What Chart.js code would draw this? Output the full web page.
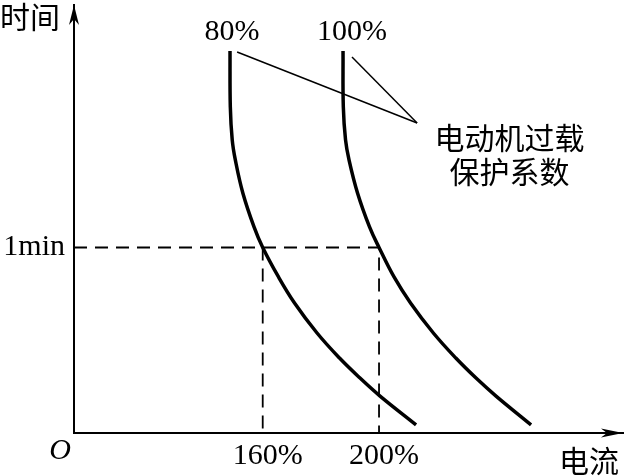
<!DOCTYPE html>
<html>
<head>
<meta charset="utf-8">
<script src="https://cdn.jsdelivr.net/npm/chart.js@4"></script>
<style>
  body { margin: 0; background: #fff; }
</style>
</head>
<body>
<canvas id="chart" width="625" height="476"></canvas>
<script>
// x = current (% of rated), y = trip time in minutes
const currentTicks = [160, 200];
const timeTicks = [1];
const xMin = 95.1, xMax = 283.9, yMax = 2.307;

const curveY = [2.059, 1.757, 1.58, 1.472, 1.294, 1.111, 1.0, 0.841, 0.701, 0.539, 0.404, 0.296, 0.199, 0.044];
const curve80X = [148.75, 148.86, 149.51, 150.58, 153.16, 157.01, 160, 165.43, 170.94, 178.68, 186.41, 193.47, 200.35, 212.73];
const curve100X = [187.62, 187.72, 188.48, 189.68, 192.6, 196.73, 200, 205.16, 210.83, 218.68, 226.41, 233.36, 240.24, 252.28];

const curveLabels = ['80%', '100%'];
const curveLabelX = [149.4, 190.7];
const curveLabelY = 2.119;

// leader lines from the curves to the note
const leaderStartX = [151.2, 190.7];
const leaderStartY = [2.054, 2.027];
const leaderEnd = {x: 213.1, y: 1.671};

const noteLines = ['电动机过载', '保护系数'];
const noteX = 244.9;
const noteY = [1.59, 1.407];

const toPts = (xs, ys) => xs.map((v, i) => ({x: v, y: ys[i]}));

const serif = "'Liberation Serif', 'DejaVu Serif', serif";
const cjk = "'Noto Sans CJK SC', sans-serif";

const curveStyle = {showLine: true, borderColor: '#000', borderWidth: 3.5, pointRadius: 0, tension: 0.4, fill: false};
const thinStyle = {showLine: true, borderColor: '#000', borderWidth: 1.5, pointRadius: 0, tension: 0, fill: false};
const dashStyle = Object.assign({}, thinStyle, {borderWidth: 1.8, borderDash: [13, 8]});

const labelsPlugin = {
  id: 'labels',
  afterDraw(chart) {
    const {ctx, chartArea: a} = chart;
    const x = chart.scales.x, y = chart.scales.y;
    ctx.save();
    ctx.fillStyle = '#000';

    // arrow heads
    ctx.beginPath();
    ctx.moveTo(a.left, a.top);
    ctx.lineTo(a.left + 5, a.top + 20);
    ctx.lineTo(a.left, a.top + 14);
    ctx.lineTo(a.left - 5, a.top + 20);
    ctx.closePath();
    ctx.fill();
    ctx.beginPath();
    ctx.moveTo(a.right, a.bottom);
    ctx.lineTo(a.right - 22, a.bottom - 4.5);
    ctx.lineTo(a.right - 16, a.bottom);
    ctx.lineTo(a.right - 22, a.bottom + 4.5);
    ctx.closePath();
    ctx.fill();

    ctx.font = '30px ' + serif;
    ctx.textAlign = 'center';
    ctx.textBaseline = 'alphabetic';
    curveLabels.forEach((t, i) => {
      ctx.fillText(t, x.getPixelForValue(curveLabelX[i]), y.getPixelForValue(curveLabelY));
    });

    ctx.font = 'italic 30px ' + serif;
    ctx.textBaseline = 'middle';
    ctx.fillText('O', a.left - 14, a.bottom + 18);

    ctx.font = '30px ' + cjk;
    noteLines.forEach((t, i) => {
      ctx.fillText(t, x.getPixelForValue(noteX), y.getPixelForValue(noteY[i]));
    });
    ctx.fillText('电流', x.getPixelForValue(272.2), a.bottom + 28);
    ctx.textAlign = 'right';
    ctx.fillText('时间', a.left - 14, y.getPixelForValue(2.243));
    ctx.restore();
  }
};

new Chart(document.getElementById('chart'), {
  type: 'scatter',
  data: {
    datasets: [
      Object.assign({data: toPts(curve80X, curveY)}, curveStyle),
      Object.assign({data: toPts(curve100X, curveY)}, curveStyle),
      Object.assign({data: [{x: xMin, y: timeTicks[0]}, {x: currentTicks[1], y: timeTicks[0]}, {x: currentTicks[1], y: 0}]}, dashStyle),
      Object.assign({data: [{x: currentTicks[0], y: timeTicks[0]}, {x: currentTicks[0], y: 0}]}, dashStyle),
      Object.assign({data: [{x: leaderStartX[0], y: leaderStartY[0]}, leaderEnd]}, thinStyle),
      Object.assign({data: [{x: leaderStartX[1], y: leaderStartY[1]}, leaderEnd]}, thinStyle)
    ]
  },
  options: {
    responsive: false,
    animation: false,
    layout: {padding: {top: 5, right: 2, left: 0, bottom: 0}},
    plugins: {legend: {display: false}, tooltip: {enabled: false}},
    scales: {
      x: {
        type: 'linear',
        min: xMin,
        max: xMax,
        grid: {display: false, drawTicks: false},
        border: {display: true, color: '#000', width: 2},
        afterBuildTicks: s => { s.ticks = currentTicks.map(v => ({value: v})); },
        afterFit: s => { s.height = 43; s.paddingLeft = 0; s.paddingRight = 0; },
        ticks: {
          color: '#000',
          padding: 5,
          labelOffset: 5,
          font: {family: serif, size: 30},
          callback: v => v + '%'
        }
      },
      y: {
        type: 'linear',
        min: 0,
        max: yMax,
        grid: {display: false, drawTicks: false},
        border: {display: true, color: '#000', width: 2},
        afterBuildTicks: s => { s.ticks = timeTicks.map(v => ({value: v})); },
        afterFit: s => { s.width = 74; s.paddingTop = 0; s.paddingBottom = 0; },
        ticks: {
          color: '#000',
          padding: 9,
          font: {family: serif, size: 30},
          callback: v => v + 'min'
        }
      }
    }
  },
  plugins: [labelsPlugin]
});
</script>
</body>
</html>
